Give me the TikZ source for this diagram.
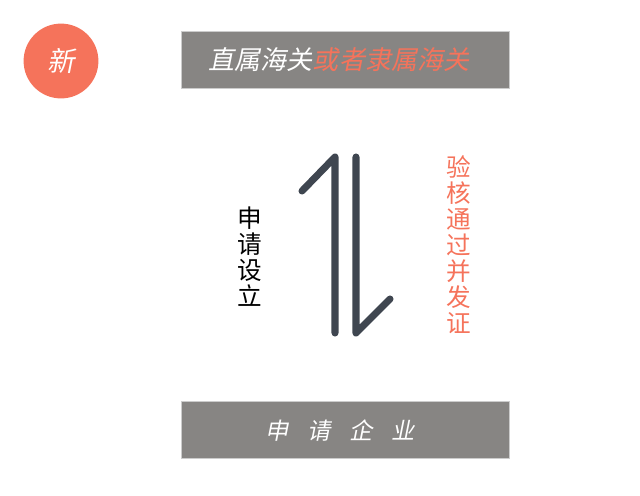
\documentclass[tikz,border=0pt]{standalone}
\usepackage{fontspec}
\usepackage{tikz}
\setmainfont{Noto Sans CJK SC}
\newfontfamily\cjkslant[FakeSlant=0.2]{Noto Sans CJK SC}
\definecolor{salmon}{HTML}{F5735B}
\definecolor{boxgray}{HTML}{878583}
\definecolor{arrowgray}{HTML}{3F4650}
\usetikzlibrary{positioning}

\begin{document}
\begin{tikzpicture}[x=0.025cm,y=-0.025cm]
                    \tikzstyle{every node}=[inner sep=0pt] \tikzstyle{badge} =
                    [circle, fill=salmon, minimum size=1.87cm] \tikzstyle{banner} =
                    [fill=boxgray, draw=black!20, line width=0.4pt, minimum width=8.2cm,
                    minimum height=1.42cm] \tikzstyle{vtext} =
                    [align=center, font=\fontsize{17.5}{18.5}\selectfont]
                    \tikzstyle{turn} = [line width=5pt, draw=arrowgray, line cap=round, line join=round]

                    \useasboundingbox (0,0) rectangle (640,495);

                    \node[badge](badge) at (61,61)
                    {\cjkslant\fontsize{19.5}{20}\selectfont\color{white}新};

                    \node[banner](top) at (345.5,59.5) {};
                    \node (toptext) at (339,60)
                    {\cjkslant\fontsize{18.5}{20}\selectfont\color{white}直属海关\textcolor{salmon}{或者隶属海关}};
                    \node[banner](bottom) at (345.5,429.5) {};
                    \node (bottomtext) at (340,431)
                    {\cjkslant\fontsize{16.5}{18}\selectfont\color{white}申\hspace{0.8em}请\hspace{0.8em}企\hspace{0.8em}业};

                    % up arrow
                    \coordinate (up1) at (335,333);
                    \coordinate (up2) at (335,157);
                    \coordinate (up3) at (302,191);
                    \draw[turn] (up1) -- (up2) -- (up3);

                    % down arrow
                    \coordinate (dn1) at (356,157);
                    \coordinate (dn2) at (356,333);
                    \coordinate (dn3) at (390,299);
                    \draw[turn] (dn1) -- (dn2) -- (dn3);

                    \node[vtext](apply) at (250,257) {申\\请\\设\\立};
                    \node[vtext, text=salmon](verify) at (459,245)
                    {验\\核\\通\\过\\并\\发\\证};
            \end{tikzpicture}
\end{document}
